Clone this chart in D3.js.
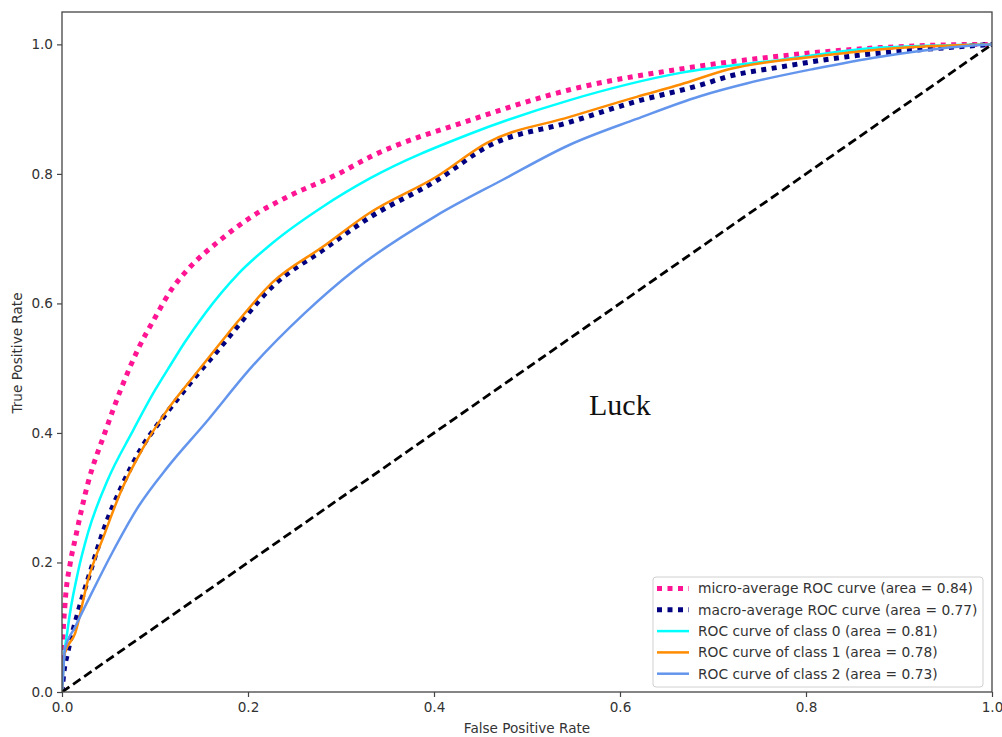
<!DOCTYPE html>
<html><head><meta charset="utf-8">
<script src="https://cdn.jsdelivr.net/npm/d3@7"></script>
<style>body{margin:0;background:#fff;} svg{display:block;}</style>
</head><body>
<svg id="chart" width="1002" height="737"></svg>
<script>
// ---- data (FPR, TPR) ----
const microFpr = [0, 0.001, 0.003, 0.009, 0.014, 0.028, 0.046, 0.064, 0.082, 0.1, 0.118, 0.135, 0.172, 0.205, 0.243, 0.297, 0.331, 0.439, 0.546, 0.665, 0.772, 0.88, 0.998, 1];
const microTpr = [0, 0.08, 0.131, 0.2, 0.235, 0.323, 0.4, 0.47, 0.53, 0.578, 0.622, 0.652, 0.7, 0.735, 0.765, 0.8, 0.826, 0.883, 0.93, 0.962, 0.982, 0.995, 1.0, 1];

const macroFpr = [0, 0.002, 0.006, 0.017, 0.032, 0.046, 0.064, 0.086, 0.111, 0.143, 0.172, 0.189, 0.226, 0.28, 0.331, 0.403, 0.457, 0.546, 0.618, 0.686, 0.718, 0.772, 0.844, 0.952, 1];
const macroTpr = [0, 0.03, 0.06, 0.122, 0.193, 0.255, 0.317, 0.378, 0.428, 0.486, 0.535, 0.565, 0.626, 0.682, 0.733, 0.79, 0.842, 0.88, 0.912, 0.937, 0.951, 0.965, 0.981, 0.995, 1];

const class0Fpr = [0, 0.001, 0.006, 0.017, 0.028, 0.049, 0.075, 0.1, 0.118, 0.132, 0.154, 0.189, 0.226, 0.28, 0.331, 0.439, 0.546, 0.665, 0.772, 0.88, 1];
const class0Tpr = [0, 0.03, 0.096, 0.184, 0.246, 0.327, 0.4, 0.466, 0.508, 0.54, 0.585, 0.645, 0.693, 0.749, 0.793, 0.862, 0.914, 0.956, 0.976, 0.995, 1];

const class1Fpr = [0, 0.001, 0.003, 0.014, 0.028, 0.046, 0.064, 0.086, 0.111, 0.143, 0.172, 0.189, 0.226, 0.28, 0.331, 0.403, 0.457, 0.546, 0.618, 0.665, 0.718, 0.808, 0.915, 1];
const class1Tpr = [0, 0.03, 0.06, 0.09, 0.173, 0.245, 0.312, 0.374, 0.431, 0.49, 0.542, 0.572, 0.632, 0.687, 0.74, 0.796, 0.848, 0.888, 0.919, 0.938, 0.962, 0.981, 0.996, 1];

const class2Fpr = [0, 0.001, 0.003, 0.014, 0.032, 0.054, 0.082, 0.114, 0.154, 0.204, 0.261, 0.315, 0.403, 0.474, 0.546, 0.618, 0.686, 0.737, 0.808, 0.88, 0.987, 1];
const class2Tpr = [0, 0.02, 0.065, 0.1, 0.153, 0.215, 0.286, 0.348, 0.415, 0.502, 0.585, 0.652, 0.736, 0.791, 0.845, 0.885, 0.92, 0.94, 0.962, 0.981, 0.999, 1];

const luckFpr = [0, 1];
const luckTpr = [0, 1];

const legendLabels = [
  "micro-average ROC curve (area = 0.84)",
  "macro-average ROC curve (area = 0.77)",
  "ROC curve of class 0 (area = 0.81)",
  "ROC curve of class 1 (area = 0.78)",
  "ROC curve of class 2 (area = 0.73)"
];
const tickValues = [0, 0.2, 0.4, 0.6, 0.8, 1.0];

// ---- drawing ----
const svg = d3.select("#chart");
const L = 62, R = 992, T = 12, B = 692;
const x = d3.scaleLinear().domain([0, 1]).range([L, R]);
const y = d3.scaleLinear().domain([0, 1.05]).range([B, T]);

const series = [
  {fpr: microFpr, tpr: microTpr, color: "deeppink", width: 5, dash: "5,5.5", label: legendLabels[0]},
  {fpr: macroFpr, tpr: macroTpr, color: "navy", width: 5, dash: "5,5.5", label: legendLabels[1]},
  {fpr: class0Fpr, tpr: class0Tpr, color: "aqua", width: 2.5, dash: null, label: legendLabels[2]},
  {fpr: class1Fpr, tpr: class1Tpr, color: "darkorange", width: 2.5, dash: null, label: legendLabels[3]},
  {fpr: class2Fpr, tpr: class2Tpr, color: "cornflowerblue", width: 2.5, dash: null, label: legendLabels[4]}
];

svg.append("defs").append("clipPath").attr("id", "clip")
  .append("rect").attr("x", L).attr("y", T).attr("width", R - L).attr("height", B - T);

const plot = svg.append("g").attr("clip-path", "url(#clip)");
const line = d3.line().x(d => x(d[0])).y(d => y(d[1])).curve(d3.curveMonotoneX);

series.forEach(s => {
  const pts = s.fpr.map((f, i) => [f, s.tpr[i]]);
  plot.append("path").datum(pts)
    .attr("d", line)
    .attr("fill", "none")
    .attr("stroke", s.color)
    .attr("stroke-width", s.width)
    .attr("stroke-dasharray", s.dash)
    .attr("stroke-linejoin", "round");
});

plot.append("path").datum(luckFpr.map((f, i) => [f, luckTpr[i]]))
  .attr("d", d3.line().x(d => x(d[0])).y(d => y(d[1])))
  .attr("fill", "none").attr("stroke", "black")
  .attr("stroke-width", 2.8).attr("stroke-dasharray", "9,4.5");

// axes
const fmt = d3.format(".1f");
const xAxis = svg.append("g").attr("transform", `translate(0,${B})`)
  .call(d3.axisBottom(x).tickValues(tickValues).tickFormat(fmt).tickSize(5).tickPadding(5));
const yAxis = svg.append("g").attr("transform", `translate(${L},0)`)
  .call(d3.axisLeft(y).tickValues(tickValues).tickFormat(fmt).tickSize(5).tickPadding(4));
[xAxis, yAxis].forEach(a => {
  a.select(".domain").remove();
  a.selectAll("line").attr("stroke", "#444").attr("stroke-width", 1.2);
  a.selectAll("text").attr("fill", "#333").style("font-family", "DejaVu Sans").style("font-size", "13.6px");
});

// frame
svg.append("rect").attr("x", L).attr("y", T).attr("width", R - L).attr("height", B - T)
  .attr("fill", "none").attr("stroke", "#444").attr("stroke-width", 1.3);

// axis labels
svg.append("text").attr("x", (L + R) / 2).attr("y", 733).attr("text-anchor", "middle")
  .style("font-family", "DejaVu Sans").style("font-size", "13.6px").attr("fill", "#333")
  .text("False Positive Rate");
svg.append("text").attr("transform", "translate(22,353) rotate(-90)").attr("text-anchor", "middle")
  .style("font-family", "DejaVu Sans").style("font-size", "13.6px").attr("fill", "#333")
  .text("True Positive Rate");

// legend
const lg = svg.append("g");
lg.append("rect").attr("x", 653).attr("y", 577).attr("width", 330).attr("height", 110)
  .attr("rx", 3).attr("fill", "white").attr("fill-opacity", 0.85)
  .attr("stroke", "#d0d0d0").attr("stroke-width", 1);
series.forEach((s, i) => {
  const yy = 588.5 + i * 21.3;
  lg.append("line").attr("x1", 657).attr("x2", 689).attr("y1", yy).attr("y2", yy)
    .attr("stroke", s.color).attr("stroke-width", s.width).attr("stroke-dasharray", s.dash);
  lg.append("text").attr("x", 698).attr("y", yy).attr("dy", "0.35em")
    .style("font-family", "DejaVu Sans").style("font-size", "13.8px").attr("fill", "#333")
    .text(s.label);
});

// Luck annotation
svg.append("text").attr("x", 589).attr("y", 415)
  .style("font-family", "Liberation Serif").style("font-size", "30px").attr("fill", "#111")
  .text("Luck");
</script>
</body></html>
